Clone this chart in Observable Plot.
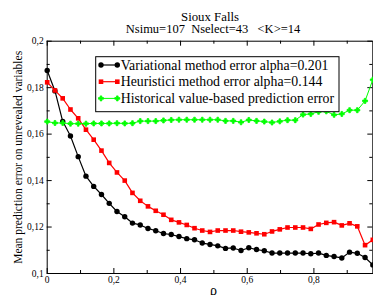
<!DOCTYPE html>
<html><head><meta charset="utf-8">
<script src="https://cdn.jsdelivr.net/npm/d3@7"></script>
<script src="https://cdn.jsdelivr.net/npm/@observablehq/plot@0.6"></script>
<style>html,body{margin:0;padding:0;background:#fff;overflow:hidden;}</style>
</head><body><div id="chart"></div>
<script>
const titleLines = ["Sioux Falls", "Nsimu=107\u00a0\u00a0Nselect=43\u00a0\u00a0\u00a0<K>=14"];
const yLabel = "Mean prediction error on unrevealed variables";
const xLabel = "\u03c1";
const rho = [0, 0.0233, 0.0465, 0.0698, 0.0930, 0.1163, 0.1395, 0.1628, 0.1860, 0.2093, 0.2326, 0.2558, 0.2791, 0.3023, 0.3256, 0.3488, 0.3721, 0.3953, 0.4186, 0.4419, 0.4651, 0.4884, 0.5116, 0.5349, 0.5581, 0.5814, 0.6047, 0.6279, 0.6512, 0.6744, 0.6977, 0.7209, 0.7442, 0.7674, 0.7907, 0.8140, 0.8372, 0.8605, 0.8837, 0.9070, 0.9302, 0.9535, 0.9767];
const variational = [0.1874, 0.1786, 0.1655, 0.1592, 0.1503, 0.1419, 0.1375, 0.1340, 0.1302, 0.1267, 0.1244, 0.1217, 0.1209, 0.1194, 0.1184, 0.1172, 0.1168, 0.1159, 0.1150, 0.1145, 0.1131, 0.1125, 0.1119, 0.1108, 0.1110, 0.1099, 0.1111, 0.1103, 0.1098, 0.1088, 0.1088, 0.1088, 0.1088, 0.1088, 0.1085, 0.1088, 0.1078, 0.1073, 0.1067, 0.1092, 0.1087, 0.1069, 0.1037];
const heuristic = [0.1823, 0.1788, 0.1754, 0.1706, 0.1668, 0.1619, 0.1576, 0.1529, 0.1476, 0.1435, 0.1400, 0.1347, 0.1313, 0.1289, 0.1270, 0.1253, 0.1231, 0.1220, 0.1209, 0.1195, 0.1185, 0.1179, 0.1185, 0.1185, 0.1185, 0.1180, 0.1177, 0.1173, 0.1169, 0.1181, 0.1190, 0.1198, 0.1198, 0.1198, 0.1192, 0.1211, 0.1218, 0.1221, 0.1207, 0.1216, 0.1203, 0.1122, 0.1145];
const historical = [0.1654, 0.1648, 0.1648, 0.1645, 0.1645, 0.1645, 0.1646, 0.1646, 0.1646, 0.1647, 0.1646, 0.1647, 0.1656, 0.1656, 0.1656, 0.1659, 0.1661, 0.1662, 0.1662, 0.1662, 0.1662, 0.1662, 0.1662, 0.1657, 0.1657, 0.1651, 0.1661, 0.1657, 0.1654, 0.1650, 0.1655, 0.1660, 0.1660, 0.1684, 0.1687, 0.1696, 0.1698, 0.1683, 0.1687, 0.1703, 0.1703, 0.1743, 0.1834];
const seriesNames = ["Variational method error alpha=0.201", "Heuristici method error alpha=0.144", "Historical value-based prediction error"];
const seriesColors = ["#000000", "#ff0000", "#00ff00"];
const seriesSymbols = ["circle", "square", "cross"];
const xMajor = [0, 0.2, 0.4, 0.6, 0.8];
const xMajorLabels = ["0", "0,2", "0,4", "0,6", "0,8"];
const xMinor = [0.1, 0.3, 0.5, 0.7, 0.9];
const yMajor = [0.1, 0.12, 0.14, 0.16, 0.18, 0.2];
const yMajorLabels = ["0,1", "0,12", "0,14", "0,16", "0,18", "0,2"];
const yMinor = [0.11, 0.13, 0.15, 0.17, 0.19];

const W = 373, H = 295;
const mL = 46.7, mR = 0.7, mT = 40.7, mB = 22;
const fw = W - mL - mR, fh = H - mT - mB;
const font = "'Liberation Serif', 'Times New Roman', serif";
const values = [variational, heuristic, historical];
const data = values.map((vals) => rho.map((r, i) => ({rho: r, v: vals[i]})));
const symR = [2.7, 2.6, 2.1];
const lineW = [1.2, 1.2, 1.0];

const marks = [
  Plot.frame({stroke: "black", strokeWidth: 1}),
  Plot.tickX(xMajor, {x: d => d, insetTop: fh - 5}),
  Plot.tickX(xMajor, {x: d => d, insetBottom: fh - 5}),
  Plot.tickX(xMinor, {x: d => d, insetTop: fh - 3}),
  Plot.tickX(xMinor, {x: d => d, insetBottom: fh - 3}),
  Plot.tickY(yMajor, {y: d => d, insetRight: fw - 5}),
  Plot.tickY(yMajor, {y: d => d, insetLeft: fw - 5}),
  Plot.tickY(yMinor, {y: d => d, insetRight: fw - 3}),
  Plot.tickY(yMinor, {y: d => d, insetLeft: fw - 3}),
  Plot.axisX(xMajor, {tickSize: 0, tickPadding: 3, tickFormat: d => xMajorLabels[xMajor.indexOf(d)], label: null}),
  Plot.axisY(yMajor, {tickSize: 0, tickPadding: 3.5, tickFormat: d => yMajorLabels[yMajor.indexOf(d)], label: null}),
];
data.forEach((d, k) => {
  marks.push(Plot.line(d, {x: "rho", y: "v", stroke: seriesColors[k], strokeWidth: lineW[k]}));
  marks.push(Plot.dot(d, {x: "rho", y: "v", fill: seriesColors[k], stroke: seriesColors[k], strokeWidth: k === 2 ? 0.8 : 0, r: symR[k], symbol: seriesSymbols[k]}));
});
marks.push(
  Plot.text([titleLines[0]], {frameAnchor: "top", textAnchor: "middle", lineAnchor: "bottom", dy: -20.5, fontSize: 12.8, text: d => d}),
  Plot.text([titleLines[1]], {frameAnchor: "top", textAnchor: "middle", lineAnchor: "bottom", dy: -8, dx: 3, fontSize: 12.5, text: d => d}),
  Plot.text([yLabel], {frameAnchor: "left", textAnchor: "middle", rotate: -90, dx: -28.5, fontSize: 11.5, text: d => d}),
  Plot.text([xLabel], {frameAnchor: "bottom", textAnchor: "middle", lineAnchor: "bottom", dy: 21.5, dx: 3.5, fontSize: 14, text: d => d})
);

const chart = Plot.plot({
  width: W, height: H,
  marginLeft: mL, marginRight: mR, marginTop: mT, marginBottom: mB,
  style: {fontFamily: font, fontSize: "9.5px", background: "white", color: "black"},
  x: {domain: [0, rho[rho.length - 1]]},
  y: {domain: [0.1, 0.2]},
  marks
});
document.getElementById("chart").appendChild(chart);

// legend box
const svg = d3.select(chart);
const lg = svg.append("g").attr("font-family", font).attr("font-size", 13.8).attr("text-anchor", "start");
lg.append("rect").attr("x", 95.7).attr("y", 56.7).attr("width", 243.3).attr("height", 55)
  .attr("fill", "white").attr("stroke", "black").attr("stroke-width", 1);
const symMap = {circle: d3.symbolCircle, square: d3.symbolSquare, cross: d3.symbolCross};
seriesNames.forEach((name, k) => {
  const cy = 65 + k * 16.7;
  const x0 = 101, x1 = 117.3;
  lg.append("line").attr("x1", x0).attr("x2", x1).attr("y1", cy).attr("y2", cy)
    .attr("stroke", seriesColors[k]).attr("stroke-width", lineW[k]);
  const sym = d3.symbol(symMap[seriesSymbols[k]], Math.PI * symR[k] * symR[k]);
  [x0, x1].forEach(x => lg.append("path").attr("d", sym()).attr("transform", `translate(${x},${cy})`)
    .attr("fill", seriesColors[k]).attr("stroke", seriesColors[k]).attr("stroke-width", k === 2 ? 0.8 : 0));
  lg.append("text").attr("x", 120.7).attr("y", cy + 4.6).attr("fill", "black").attr("text-anchor", "start").text(name);
});
</script></body></html>
